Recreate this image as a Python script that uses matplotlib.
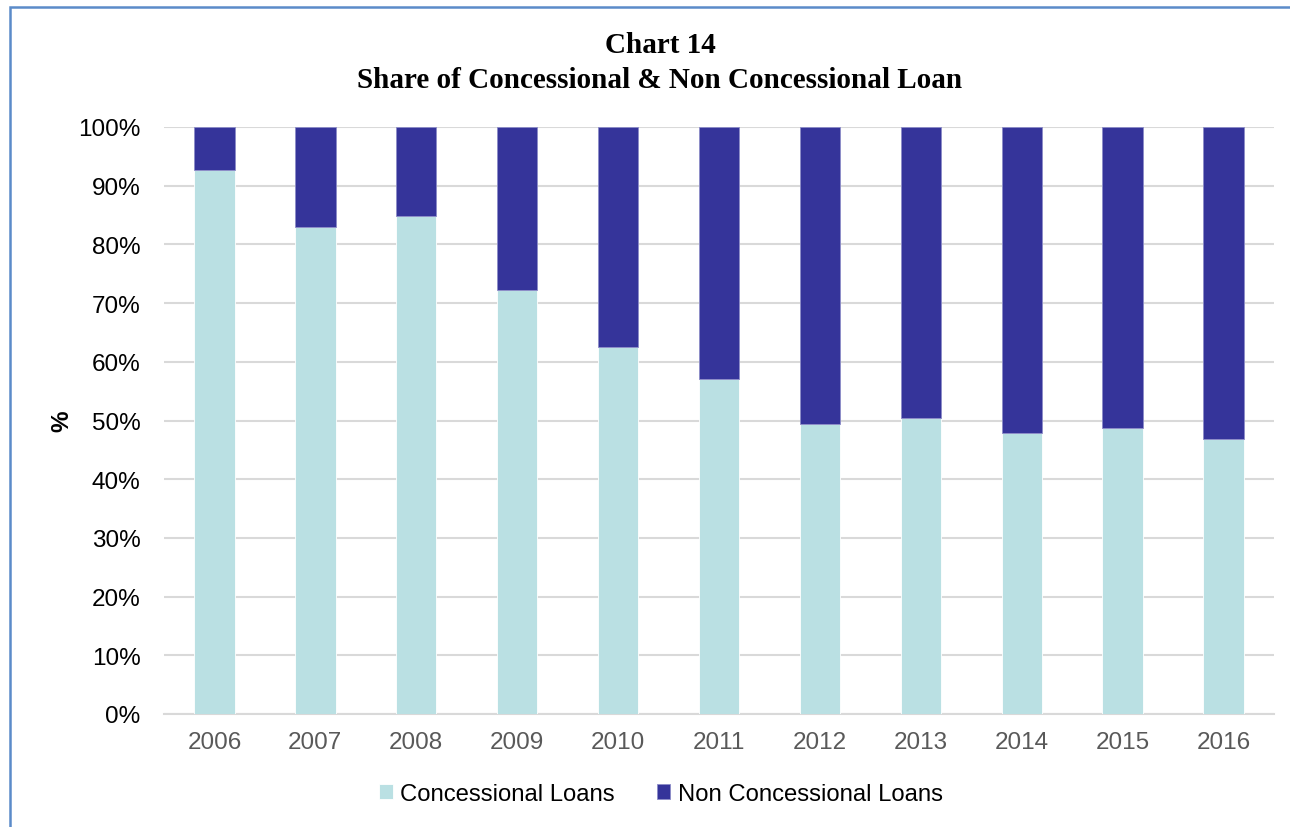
import matplotlib.pyplot as plt
from matplotlib.patches import Rectangle
from matplotlib.ticker import PercentFormatter

# Data (share in %)
years = ["2006", "2007", "2008", "2009", "2010", "2011",
         "2012", "2013", "2014", "2015", "2016"]
concessional = [92.7, 83.0, 84.8, 72.2, 62.5, 57.1, 49.4, 50.4, 47.9, 48.7, 46.8]
non_concessional = [100 - v for v in concessional]

light = "#BAE0E3"
dark = "#35349A"

plt.rcParams['font.family'] = ['Liberation Sans', 'DejaVu Sans']

fig = plt.figure(figsize=(12.9, 8.28), dpi=100)
ax = fig.add_axes([164 / 1290, 1 - 715 / 828, (1274 - 164) / 1290, (715 - 128) / 828])

# Outer frame (only the left and top edges fall inside the picture)
fig.patches.append(Rectangle((10 / 1290, -0.1), 1.2, 1.1 - 8 / 828,
                             transform=fig.transFigure, fill=False,
                             edgecolor="#5B8BC9", linewidth=1.8))

x = range(len(years))
width = 0.40
ax.bar(x, concessional, width, color=light, edgecolor="white", linewidth=0.6,
       label="Concessional Loans", zorder=3)
ax.bar(x, non_concessional, width, bottom=concessional, color=dark,
       edgecolor="#8C8CC8", linewidth=0.6, label="Non Concessional Loans", zorder=3)

ax.set_xlim(-0.5, len(years) - 0.5)
ax.set_ylim(0, 100)
ax.set_yticks(range(0, 101, 10))
ax.yaxis.set_major_formatter(PercentFormatter(decimals=0))
ax.set_xticks(list(x))
ax.set_xticklabels(years)

ax.grid(axis="y", color="#D9D9D9", linewidth=1.5, zorder=0)
for side in ["top", "right", "left"]:
    ax.spines[side].set_visible(False)
ax.spines["bottom"].set_color("#D9D9D9")
ax.spines["bottom"].set_linewidth(1.5)
ax.tick_params(axis="both", length=0, labelsize=17.5)
ax.tick_params(axis="x", colors="#595959", pad=12)
ax.tick_params(axis="y", colors="black", pad=17)

ax.set_ylabel("%", fontsize=17.5, fontweight="bold", labelpad=3)

fig.text(660 / 1290, 1 - 63 / 828, "Chart 14\nShare of Concessional & Non Concessional Loan",
         ha="center", va="center", fontsize=21, fontweight="bold",
         family=["Liberation Serif", "DejaVu Serif"], linespacing=1.35)

fig.legend(loc="center", bbox_to_anchor=(661 / 1290, 1 - 795 / 828), ncol=2,
           frameon=False, fontsize=17.2, handlelength=0.55, handleheight=0.55,
           handletextpad=0.3, columnspacing=1.8)

fig.savefig("out.png", dpi=100)
